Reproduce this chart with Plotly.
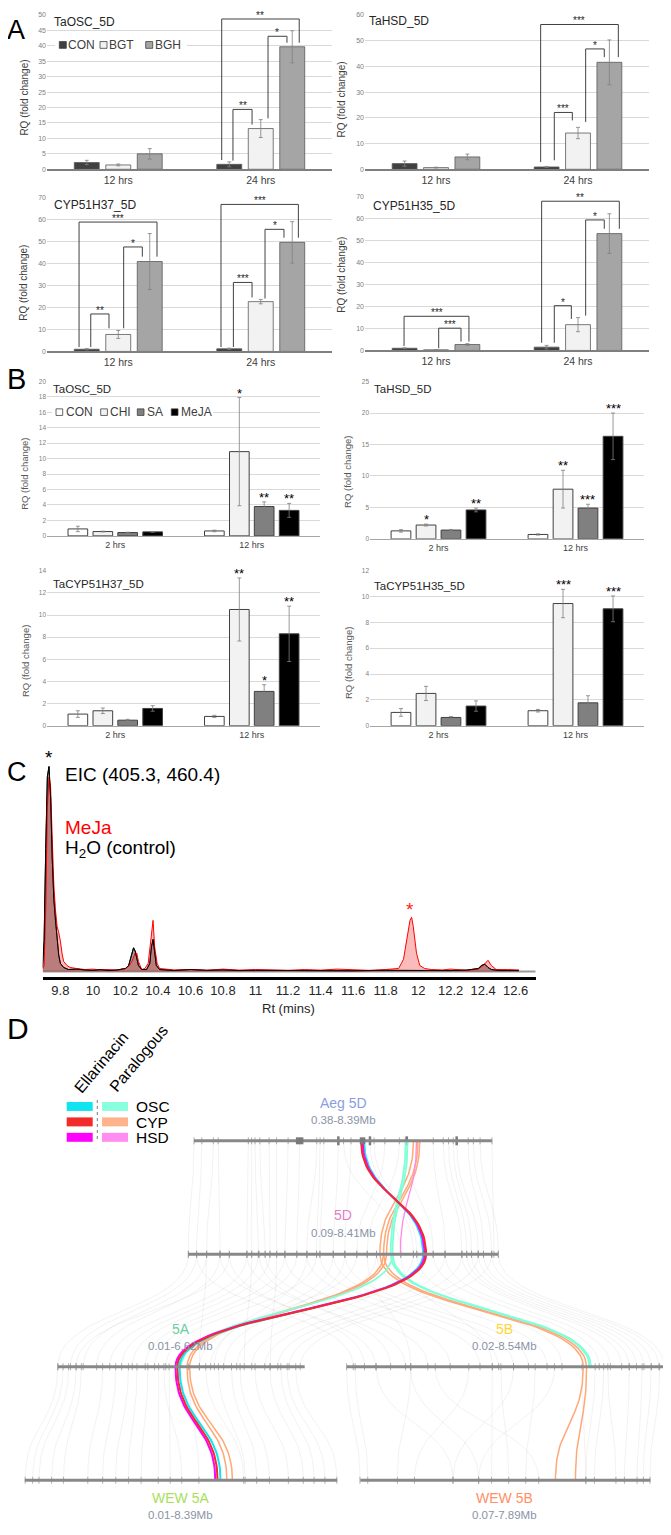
import plotly.graph_objects as go

W, H = 671, 1535          # target page size in px
OFF = 8                    # default page margin of the html body
FW, FH = W - OFF, H - OFF  # figure size
FONT = "Liberation Sans, Arial, sans-serif"

# ============================ DATA ============================
# ---- Panel A: RQ (fold change), CON / BGT / BGH ----
A_times = ["12 hrs", "24 hrs"]
A_groups = ["CON", "BGT", "BGH"]
A_genes = ["TaOSC_5D", "TaHSD_5D", "CYP51H37_5D", "CYP51H35_5D"]
A_osc_mean = [[2.2, 1.6], [1.4, 13.2], [5.0, 39.7]]
A_osc_err = [[0.7, 0.8], [0.3, 2.9], [1.7, 5.2]]
A_hsd_mean = [[2.2, 0.9], [0.65, 14.1], [4.8, 41.6]]
A_hsd_err = [[1.0, 0.2], [0.15, 2.2], [1.1, 8.7]]
A_cyp37_mean = [[1.0, 1.2], [7.7, 22.6], [40.8, 49.5]]
A_cyp37_err = [[0.3, 0.3], [1.8, 1.0], [12.7, 9.4]]
A_cyp35_mean = [[1.0, 1.5], [0.3, 11.7], [2.7, 53.0]]
A_cyp35_err = [[0.2, 0.8], [0.1, 3.2], [0.4, 9.0]]
# significance brackets: (x left, x right, top, left end, right end, label)
A_osc_sig = [(0.726, 1.270, 48.7, 3.0, 41.0, "**"), (1.051, 1.184, 43.1, 16.5, 41.0, "*"),
             (0.805, 0.939, 19.4, 2.8, 14.5, "**")]
A_hsd_sig = [(0.737, 1.284, 56.3, 2.8, 43.6, "***"), (1.054, 1.185, 46.8, 18.4, 43.6, "*"),
             (0.833, 0.960, 22.1, 3.5, 19.0, "***")]
A_cyp37_sig = [(-0.275, 0.272, 58.7, 2.0, 43.0, "***"), (-0.193, -0.065, 17.0, 2.0, 10.5, "**"),
               (0.038, 0.169, 47.4, 10.5, 43.0, "*"), (0.721, 1.264, 66.7, 2.0, 51.6, "***"),
               (0.808, 0.939, 31.3, 2.0, 24.5, "***"), (1.030, 1.163, 55.4, 24.0, 51.6, "*")]
A_cyp35_sig = [(-0.225, 0.232, 15.5, 2.0, 4.0, "***"), (0.019, 0.176, 10.1, 1.0, 4.0, "***"),
               (0.744, 1.291, 67.7, 3.5, 55.2, "**"), (1.054, 1.185, 59.2, 15.8, 55.2, "*"),
               (0.833, 0.953, 20.3, 3.5, 14.3, "*")]

# ---- Panel B: RQ (fold change), CON / CHI / SA / MeJA ----
B_times = ["2 hrs", "12 hrs"]
B_groups = ["CON", "CHI", "SA", "MeJA"]
B_genes = ["TaOSC_5D", "TaHSD_5D", "TaCYP51H37_5D", "TaCYP51H35_5D"]
B_osc_mean = [[0.9, 0.64], [0.56, 10.9], [0.43, 3.8], [0.52, 3.3]]
B_osc_err = [[0.35, 0.1], [0.05, 7.0], [0.05, 0.6], [0.05, 0.9]]
B_osc_sig = [["", ""], ["", "*"], ["", "**"], ["", "**"]]
B_hsd_mean = [[1.27, 0.7], [2.2, 7.9], [1.4, 4.9], [4.6, 16.3]]
B_hsd_err = [[0.2, 0.1], [0.15, 3.0], [0.1, 0.6], [0.3, 3.7]]
B_hsd_sig = [["", ""], ["*", "**"], ["", "***"], ["**", "***"]]
B_cyp37_mean = [[1.05, 0.84], [1.35, 10.5], [0.5, 3.1], [1.56, 8.3]]
B_cyp37_err = [[0.3, 0.1], [0.25, 2.85], [0.08, 0.6], [0.25, 2.5]]
B_cyp37_sig = [["", ""], ["", "**"], ["", "*"], ["", "**"]]
B_cyp35_mean = [[1.03, 1.16], [2.5, 9.46], [0.64, 1.77], [1.52, 9.05]]
B_cyp35_err = [[0.3, 0.1], [0.55, 1.1], [0.07, 0.55], [0.4, 1.0]]
B_cyp35_sig = [["", ""], ["", "***"], ["", ""], ["", "***"]]

# ---- Panel C: EIC (405.3, 460.4) chromatograms ----
C_rt_meja = [9.69, 9.70, 9.71, 9.72, 9.73, 9.74, 9.75, 9.76, 9.77, 9.78, 9.79, 9.80, 9.81, 9.82,
             9.84, 9.86, 9.90, 9.95, 10.00, 10.05, 10.10, 10.15, 10.20, 10.22, 10.24, 10.26,
             10.27, 10.28, 10.30, 10.32, 10.34, 10.355, 10.37, 10.38, 10.395, 10.41, 10.45,
             10.50, 10.60, 10.70, 10.80, 10.90, 11.00, 11.10, 11.20, 11.30, 11.40, 11.50,
             11.60, 11.70, 11.80, 11.88, 11.91, 11.93, 11.95, 11.96, 11.97, 11.99, 12.01,
             12.04, 12.08, 12.15, 12.20, 12.30, 12.37, 12.40, 12.43, 12.45, 12.48, 12.55, 12.62]
C_int_meja = [1, 3, 30, 80, 95, 90, 65, 42, 30, 22, 19, 15, 9, 5,
              3, 2, 1.5, 1, 1.2, 0.8, 1, 0.6, 1.5, 2.5, 5, 9,
              9, 5, 1, 1.5, 4, 14, 25, 12, 4, 1.5, 1.2,
              0.8, 1, 0.6, 1.2, 0.7, 1, 0.8, 0.6, 1, 0.7, 1.2,
              0.8, 0.6, 1, 1.5, 6, 15, 25, 26.5, 22, 9, 3,
              1.5, 1, 0.8, 1.2, 0.6, 1.2, 3, 5.5, 3, 1, 1, 0.8]
C_rt_h2o = [9.69, 9.70, 9.71, 9.72, 9.73, 9.74, 9.75, 9.76, 9.77, 9.78, 9.79, 9.80, 9.82, 9.85,
            9.90, 9.95, 10.00, 10.05, 10.10, 10.15, 10.20, 10.22, 10.24, 10.25, 10.26, 10.27,
            10.28, 10.30, 10.33, 10.35, 10.36, 10.37, 10.38, 10.39, 10.41, 10.45, 10.50, 10.60,
            10.70, 10.80, 10.90, 11.00, 11.20, 11.40, 11.60, 11.80, 11.90, 12.00, 12.10, 12.20,
            12.30, 12.37, 12.39, 12.41, 12.43, 12.45, 12.50, 12.60, 12.62]
C_int_h2o = [2, 15, 60, 95, 100, 85, 55, 35, 25, 15, 8, 4, 2, 1,
             1.2, 0.8, 0.6, 0.9, 0.5, 0.8, 1.5, 3, 8, 11.6, 10, 6,
             3, 1, 1, 4, 12, 15.7, 8, 3, 1, 0.8, 0.5, 1,
             0.6, 0.8, 0.5, 0.6, 0.5, 0.7, 0.4, 0.6, 0.5, 0.4, 0.6, 0.5,
             0.7, 1.5, 3, 3.6, 2, 1, 0.5, 0.6, 0.5]
C_ticks = [9.8, 10.0, 10.2, 10.4, 10.6, 10.8, 11.0, 11.2, 11.4, 11.6, 11.8, 12.0, 12.2, 12.4, 12.6]
C_tick_labels = ["9.8", "10", "10.2", "10.4", "10.6", "10.8", "11", "11.2", "11.4", "11.6",
                 "11.8", "12", "12.2", "12.4", "12.6"]

# ---- Panel D: synteny (positions in Mb) ----
D_chroms = ["Aeg 5D", "5D", "5A", "5B", "WEW 5A", "WEW 5B"]
D_ranges = ["0.38-8.39Mb", "0.09-8.41Mb", "0.01-6.62Mb", "0.02-8.54Mb", "0.01-8.39Mb", "0.07-7.89Mb"]
D_starts = [0.38, 0.09, 0.01, 0.02, 0.01, 0.07]
D_ends = [8.39, 8.41, 6.62, 8.54, 8.39, 7.89]
D_gray_aeg_5d = [(0.38, 0.10), (0.59, 0.32), (0.90, 0.59), (1.03, 0.95), (1.84, 1.67), (1.93, 1.80),
                 (2.02, 1.98), (2.15, 2.16), (2.40, 2.29), (2.60, 2.47), (2.91, 2.69), (3.22, 3.01),
                 (3.68, 3.28), (3.77, 3.54), (3.87, 3.63), (4.26, 3.99), (4.40, 5.80), (4.60, 4.30),
                 (5.11, 6.14), (5.22, 6.23), (5.51, 4.62), (5.90, 4.90), (6.06, 6.67), (6.81, 6.99),
                 (7.08, 7.44), (7.22, 7.57), (7.35, 7.70), (7.44, 7.88), (7.75, 8.02), (7.89, 8.24),
                 (8.07, 8.42), (8.39, 8.30)]
D_gray_5d_5a = [(0.10, 0.01), (0.32, 0.35), (0.59, 0.69), (0.95, 1.05), (1.20, 0.50), (1.67, 1.40),
                (1.80, 5.00), (1.98, 1.72), (2.29, 2.00), (2.47, 5.70), (2.69, 2.35), (3.01, 2.60),
                (3.28, 4.20), (3.54, 2.90), (3.99, 4.10), (4.30, 4.45), (4.62, 3.80), (5.15, 4.80),
                (6.14, 5.20), (6.99, 5.55), (7.44, 5.90), (7.88, 6.20), (8.24, 6.50), (0.59, 3.80)]
D_gray_5d_5b = [(0.32, 0.20), (0.95, 0.80), (1.67, 1.60), (2.16, 2.20), (2.69, 2.80), (3.28, 3.60),
                (3.63, 4.10), (3.99, 4.50), (4.30, 4.90), (5.15, 5.40), (6.23, 5.80), (6.67, 6.80),
                (6.99, 7.10), (7.44, 7.40), (7.57, 7.60), (7.70, 7.80), (7.88, 8.00), (8.02, 8.20),
                (8.24, 8.40), (8.42, 8.54), (1.20, 0.50), (2.00, 1.20), (4.90, 1.74), (5.80, 3.93)]
D_gray_5a_wew5a = [(0.01, 0.02), (0.15, 0.22), (0.30, 0.39), (0.50, 0.73), (0.64, 1.05), (1.21, 1.70),
                   (1.56, 2.10), (1.90, 2.45), (2.13, 2.79), (2.42, 3.13), (2.71, 3.59), (2.85, 4.22),
                   (2.99, 3.91), (3.51, 4.68), (3.97, 5.88), (4.31, 5.92), (4.66, 6.23), (4.89, 6.57),
                   (5.29, 7.08), (5.69, 7.48), (5.98, 7.77), (6.15, 8.06), (6.38, 8.38)]
D_gray_5b_wew5b = [(0.02, 0.06), (0.25, 0.27), (0.82, 2.57), (1.74, 1.07), (1.74, 3.26), (2.40, 4.88),
                   (3.30, 1.53), (3.93, 3.61), (4.16, 4.07), (4.50, 2.57), (5.08, 4.53), (5.60, 3.26),
                   (6.34, 6.15), (6.69, 6.15), (6.92, 6.38), (7.03, 6.96), (7.61, 7.19), (7.95, 7.53),
                   (8.19, 7.70), (8.42, 7.88)]
D_aeg_blocks = [3.22, 4.91]
D_aeg_thick = [4.26, 5.11, 6.10, 7.44]
# Ellarinacin cluster genes (OSC, CYP, HSD) along Aeg 5D -> 5D -> 5A -> WEW 5A
D_ell_genes = ["OSC", "CYP", "HSD"]
D_ell_aeg = [4.95, 4.87, 4.91]
D_ell_5d = [6.40, 6.48, 6.44]
D_ell_5a = [3.27, 3.21, 3.16]
D_ell_wew5a = [5.26, 5.18, 5.12]
# Paralogous genes
D_par_osc_aeg_5d = [(6.07, 5.53), (6.12, 5.58)]
D_par_osc_5d_5a = [(5.58, 3.31)]
D_par_osc_5d_5b = [(5.53, 6.54), (5.58, 6.58)]
D_par_cyp_aeg_5d = [(6.28, 5.24), (6.40, 5.34), (6.45, 5.42)]
D_par_cyp_5d_5a = [(5.34, 3.47), (5.42, 3.54)]
D_par_cyp_5d_5b = [(5.24, 6.37), (5.34, 6.46)]
D_par_cyp_5a_wew5a = [(3.47, 5.43), (3.54, 5.58)]
D_par_cyp_5b_wew5b = [(6.37, 5.33), (6.46, 5.87)]
D_par_hsd_aeg_5d = [(6.36, 5.79)]

# ============================ LAYOUT HELPERS ============================
def fx(p):
    return (p - OFF) / FW


def fy(p):
    return 1 - (p - OFF) / FH


layout = dict(width=FW, height=FH, margin=dict(l=0, r=0, t=0, b=0), autosize=False,
              paper_bgcolor="white", plot_bgcolor="rgba(0,0,0,0)", showlegend=False,
              barmode="overlay", font=dict(family=FONT))
annotations = []
shapes = []
fig = go.Figure()


def names(i):
    if i == 1:
        return "xaxis", "yaxis", "x", "y"
    return f"xaxis{i}", f"yaxis{i}", f"x{i}", f"y{i}"


def ann(text, x, y, size, color="#000000", xanchor="center", yanchor="middle", angle=0, family=FONT):
    annotations.append(dict(text=text, x=fx(x), y=fy(y), xref="paper", yref="paper", showarrow=False,
                            font=dict(size=size, color=color, family=family), xanchor=xanchor,
                            yanchor=yanchor, textangle=angle, borderpad=0))


def prect(x0, y0, x1, y1, fill, line=None, lw=0):
    shapes.append(dict(type="rect", xref="paper", yref="paper", x0=fx(x0), x1=fx(x1), y0=fy(y1),
                       y1=fy(y0), fillcolor=fill, line=dict(color=line or fill, width=lw), layer="above"))


def bar_axes(i, box, yr, ticktext, tickfs, catfs, linecolor, lw):
    xa, ya, xr, yref = names(i)
    layout[xa] = dict(domain=[fx(box[0]), fx(box[1])], anchor=yref, range=[-0.5, 1.5], tickvals=[0, 1],
                      ticktext=ticktext, showgrid=False, zeroline=False, showline=True, linecolor=linecolor,
                      linewidth=lw, ticks="", tickfont=dict(size=catfs, color="#404040"), fixedrange=True)
    layout[ya] = dict(domain=[fy(box[3]), fy(box[2])], anchor=xr, range=[yr[0], yr[1]], dtick=yr[2], tick0=0,
                      showgrid=True, gridcolor="#d9d9d9", gridwidth=0.8, zeroline=False, showline=False,
                      ticks="", tickfont=dict(size=tickfs, color="#808080"), fixedrange=True)
    return xr, yref


# ============================ PANEL A ============================
A_boxes = [(47, 332, 11, 166), (365, 649, 11, 166), (47, 332, 194, 349), (365, 649, 193, 348)]
A_yr = [(0, 50, 5), (0, 60, 10), (0, 70, 10), (0, 70, 10)]
A_title_pos = [(53, 18), (368, 17), (53, 202), (372, 203)]
A_ytitle_pos = [(25, 94), (342, 96), (24, 280), (342, 272)]
A_colors = ["#404040", "#f2f2f2", "#a5a5a5"]
A_centers = [-0.221, 0.0, 0.221]
A_width = 0.175
A_means = [A_osc_mean, A_hsd_mean, A_cyp37_mean, A_cyp35_mean]
A_errs = [A_osc_err, A_hsd_err, A_cyp37_err, A_cyp35_err]
A_sigs = [A_osc_sig, A_hsd_sig, A_cyp37_sig, A_cyp35_sig]

for k in range(4):
    xr, yr = bar_axes(k + 1, A_boxes[k], A_yr[k], A_times, 7, 10.5, "#7f7f7f", 1.5)
    for j, g in enumerate(A_groups):
        fig.add_trace(go.Bar(x=[0, 1], y=A_means[k][j], name=g, width=A_width,
                             offset=A_centers[j] - A_width / 2,
                             marker=dict(color=A_colors[j], line=dict(color="#595959", width=0.8)),
                             error_y=dict(type="data", array=A_errs[k][j], color="#808080",
                                          thickness=0.8, width=2),
                             xaxis=xr, yaxis=yr))
    for (x0, x1, top, yl, yrr, lab) in A_sigs[k]:
        shapes.append(dict(type="path", xref=xr, yref=yr,
                           path=f"M {x0},{yl} L {x0},{top} L {x1},{top} L {x1},{yrr}",
                           line=dict(color="#404040", width=1), layer="above"))
        annotations.append(dict(text=lab, x=(x0 + x1) / 2, y=top, xref=xr, yref=yr, showarrow=False,
                                yanchor="bottom", yshift=-4, font=dict(size=10, color="#262626")))
    ann(A_genes[k], A_title_pos[k][0], A_title_pos[k][1], 12, "#262626", xanchor="left")
    ann("RQ (fold change)", A_ytitle_pos[k][0], A_ytitle_pos[k][1], 10, "#404040", angle=-90)

# Panel A legend
prect(55, 33, 187, 49, "white")
A_leg_sq = [59.3, 100, 145.7]
for j, g in enumerate(A_groups):
    prect(A_leg_sq[j], 37.7, A_leg_sq[j] + 7, 44.5, A_colors[j], "#404040", 0.8)
    ann(g, A_leg_sq[j] + 8, 41.2, 12, "#404040", xanchor="left")

# ============================ PANEL B ============================
B_boxes = [(47, 320, 379, 534.3), (370, 644, 379.3, 537.3), (47, 320, 569.3, 725), (370, 644, 569.3, 725)]
B_yr = [(0, 20, 2), (0, 25, 5), (0, 14, 2), (0, 12, 2)]
B_title_pos = [(52, 387), (373, 387), (52, 583), (373, 585)]
B_ytitle_pos = [(25, 472), (348, 470), (25, 660), (348, 662)]
B_colors = ["#ffffff", "#f2f2f2", "#808080", "#000000"]
B_centers = [-0.274, -0.091, 0.091, 0.274]
B_width = 0.144
B_means = [B_osc_mean, B_hsd_mean, B_cyp37_mean, B_cyp35_mean]
B_errs = [B_osc_err, B_hsd_err, B_cyp37_err, B_cyp35_err]
B_sigs = [B_osc_sig, B_hsd_sig, B_cyp37_sig, B_cyp35_sig]

for k in range(4):
    xr, yr = bar_axes(k + 5, B_boxes[k], B_yr[k], B_times, 6.5, 9, "#a6a6a6", 1.2)
    for j, g in enumerate(B_groups):
        fig.add_trace(go.Bar(x=[0, 1], y=B_means[k][j], name=g, width=B_width,
                             offset=B_centers[j] - B_width / 2,
                             marker=dict(color=B_colors[j], line=dict(color="#404040", width=1)),
                             error_y=dict(type="data", array=B_errs[k][j], color="#7f7f7f",
                                          thickness=0.8, width=2),
                             xaxis=xr, yaxis=yr))
        for t in range(2):
            lab = B_sigs[k][j][t]
            if lab:
                annotations.append(dict(text=lab, x=t + B_centers[j], y=B_means[k][j][t] + B_errs[k][j][t],
                                        xref=xr, yref=yr, showarrow=False, yanchor="bottom", yshift=-5,
                                        font=dict(size=13, color="#000000")))
    ann(B_genes[k], B_title_pos[k][0], B_title_pos[k][1], 11.5, "#262626", xanchor="left")
    ann("RQ (fold change)", B_ytitle_pos[k][0], B_ytitle_pos[k][1], 9.5, "#595959", angle=-90)

prect(52, 402, 213, 418, "white")
B_leg_sq = [56, 100.7, 137.3, 171.3]
for j, g in enumerate(B_groups):
    prect(B_leg_sq[j], 406.7, B_leg_sq[j] + 6.7, 413.3, B_colors[j], "#404040", 0.8)
    ann(g, B_leg_sq[j] + 8.5, 410, 12, "#404040", xanchor="left")

# ============================ PANEL C ============================
xa, ya, xr, yr = names(9)
layout[xa] = dict(domain=[fx(42.8), fx(535.7)], anchor=yr, range=[9.692, 12.723], tickvals=C_ticks,
                  ticktext=C_tick_labels, tickangle=0, showgrid=False, zeroline=False, showline=True,
                  linecolor="#000000", linewidth=3, ticks="",
                  tickfont=dict(size=13, color="#262626", family="Liberation Sans Narrow, Arial Narrow, Liberation Sans, Arial"),
                  fixedrange=True)
layout[ya] = dict(domain=[fy(977), fy(750)], anchor=xr, range=[-2.43, 107.8], visible=False, fixedrange=True)
shapes.append(dict(type="line", xref=xr, yref=yr, x0=9.692, x1=12.723, y0=0, y1=0,
                   line=dict(color="#9a9a9a", width=2), layer="below"))
fig.add_trace(go.Scatter(x=C_rt_h2o, y=C_int_h2o, mode="lines", name="H2O (control)",
                         line=dict(color="#000000", width=1), fill="tozeroy",
                         fillcolor="rgba(80,80,80,0.55)", xaxis=xr, yaxis=yr))
fig.add_trace(go.Scatter(x=C_rt_meja, y=C_int_meja, mode="lines", name="MeJa",
                         line=dict(color="#ff0000", width=1), fill="tozeroy",
                         fillcolor="rgba(240,60,60,0.35)", xaxis=xr, yaxis=yr))
fig.add_trace(go.Scatter(x=C_rt_h2o, y=C_int_h2o, mode="lines", name="H2O line",
                         line=dict(color="#000000", width=0.9), xaxis=xr, yaxis=yr))
ann("*", 49, 757, 19, "#000000")
ann("EIC (405.3, 460.4)", 64, 774, 19, "#000000", xanchor="left")
ann("MeJa", 64, 827, 19, "#ff0000", xanchor="left")
ann("H<sub>2</sub>O (control)", 64, 849, 19, "#000000", xanchor="left")
ann("*", 409.5, 910, 19, "#ff2020")
ann("Rt (mins)", 288, 1009, 13, "#262626")

# ============================ PANEL D ============================
xa, ya, xr, yr = names(10)
layout[xa] = dict(domain=[0, 1], anchor=yr, range=[OFF, W], visible=False, fixedrange=True)
layout[ya] = dict(domain=[0, fy(1000)], anchor=xr, range=[H, 1000], visible=False, fixedrange=True)
D_geom = {"Aeg 5D": (194, 492, 1142), "5D": (188, 498, 1256), "5A": (57.8, 304.7, 1369),
          "5B": (346.6, 664.1, 1369), "WEW 5A": (24.8, 337.2, 1483), "WEW 5B": (360.3, 650.4, 1483)}
D_label_pos = {"Aeg 5D": (343, 1104), "5D": (343, 1217), "5A": (180.6, 1331), "5B": (504.9, 1331),
               "WEW 5A": (180.6, 1500.7), "WEW 5B": (504.9, 1500.7)}
D_label_col = {"Aeg 5D": "#8a9ede", "5D": "#e47cc8", "5A": "#6ccca4", "5B": "#ffd633",
               "WEW 5A": "#a8e05c", "WEW 5B": "#ff8f66"}


def cx(ch, mb):
    i = D_chroms.index(ch)
    x0, x1, _ = D_geom[ch]
    return x0 + (mb - D_starts[i]) / (D_ends[i] - D_starts[i]) * (x1 - x0)


def curve(ch1, m1, ch2, m2, n=40):
    x1, y1 = cx(ch1, m1), D_geom[ch1][2]
    x2, y2 = cx(ch2, m2), D_geom[ch2][2]
    ym = (y1 + y2) / 2
    xs, ys = [], []
    for i in range(n + 1):
        t = i / n
        u = 1 - t
        xs.append(u ** 3 * x1 + 3 * u * u * t * x1 + 3 * u * t * t * x2 + t ** 3 * x2)
        ys.append(u ** 3 * y1 + 3 * u * u * t * ym + 3 * u * t * t * ym + t ** 3 * y2)
    return xs, ys


def link_trace(pairs_list, color, width, name):
    X, Y = [], []
    for ch1, ch2, pairs in pairs_list:
        for (a, b) in pairs:
            xs, ys = curve(ch1, a, ch2, b)
            X += xs + [None]
            Y += ys + [None]
    fig.add_trace(go.Scatter(x=X, y=Y, mode="lines", line=dict(color=color, width=width), name=name,
                             xaxis=xr, yaxis=yr, hoverinfo="skip"))


gray_sets = [("Aeg 5D", "5D", D_gray_aeg_5d), ("5D", "5A", D_gray_5d_5a), ("5D", "5B", D_gray_5d_5b),
             ("5A", "WEW 5A", D_gray_5a_wew5a), ("5B", "WEW 5B", D_gray_5b_wew5b)]
link_trace(gray_sets, "rgba(170,170,170,0.25)", 0.6, "collinear")

# chromosome bars
for ch in D_chroms:
    x0, x1, y = D_geom[ch]
    shapes.append(dict(type="line", xref=xr, yref=yr, x0=x0, x1=x1, y0=y, y1=y,
                       line=dict(color="#888888", width=3), layer="above"))
# gene ticks from link endpoints
TX, TY = [], []
for ch1, ch2, pairs in gray_sets:
    for (a, b) in pairs:
        for ch, m in ((ch1, a), (ch2, b)):
            x = cx(ch, m)
            y = D_geom[ch][2]
            TX += [x, x, None]
            TY += [y - 3.5, y + 3.5, None]
fig.add_trace(go.Scatter(x=TX, y=TY, mode="lines", line=dict(color="#9a9a9a", width=0.8), xaxis=xr,
                         yaxis=yr, hoverinfo="skip", name="genes"))
TX, TY = [], []
for m in D_aeg_thick:
    x = cx("Aeg 5D", m)
    TX += [x, x, None]
    TY += [1142 - 4.5, 1142 + 4.5, None]
fig.add_trace(go.Scatter(x=TX, y=TY, mode="lines", line=dict(color="#7a7a7a", width=2.5), xaxis=xr,
                         yaxis=yr, hoverinfo="skip", name="thick genes"))
for m, wpx in zip(D_aeg_blocks, [7.5, 5.5]):
    x = cx("Aeg 5D", m)
    shapes.append(dict(type="rect", xref=xr, yref=yr, x0=x - wpx / 2, x1=x + wpx / 2, y0=1138.5, y1=1145.5,
                       fillcolor="#7a7a7a", line=dict(width=0), layer="above"))

# paralogous links
link_trace([("Aeg 5D", "5D", D_par_cyp_aeg_5d), ("5D", "5A", D_par_cyp_5d_5a), ("5D", "5B", D_par_cyp_5d_5b),
            ("5A", "WEW 5A", D_par_cyp_5a_wew5a), ("5B", "WEW 5B", D_par_cyp_5b_wew5b)],
           "#ffa878", 1.5, "CYP paralogous")
link_trace([("Aeg 5D", "5D", D_par_osc_aeg_5d), ("5D", "5A", D_par_osc_5d_5a), ("5D", "5B", D_par_osc_5d_5b)],
           "#7fffd8", 1.8, "OSC paralogous")
link_trace([("Aeg 5D", "5D", D_par_hsd_aeg_5d)], "#ff88e8", 1.3, "HSD paralogous")
# ellarinacin cluster links
D_ell_colors = ["#10e4f0", "#f22a2a", "#ff00ff"]
for g in [0, 2, 1]:
    link_trace([("Aeg 5D", "5D", [(D_ell_aeg[g], D_ell_5d[g])]),
                ("5D", "5A", [(D_ell_5d[g], D_ell_5a[g])]),
                ("5A", "WEW 5A", [(D_ell_5a[g], D_ell_wew5a[g])])],
               D_ell_colors[g], 2.0, D_ell_genes[g] + " ellarinacin")

for i, ch in enumerate(D_chroms):
    lx, ly = D_label_pos[ch]
    ann(ch, lx, ly, 14, D_label_col[ch])
    ann(D_ranges[i], lx, ly + 17.5, 11.5, "#8a93a6")

# legend of panel D
D_par_colors = ["#88ffdd", "#ffb38a", "#ff8cf0"]
D_leg_rows = [1103, 1118.5, 1134]
for r in range(3):
    shapes.append(dict(type="rect", xref=xr, yref=yr, x0=66.7, x1=92.7, y0=D_leg_rows[r],
                       y1=D_leg_rows[r] + 9, fillcolor=D_ell_colors[r], line=dict(width=0), layer="above"))
    shapes.append(dict(type="rect", xref=xr, yref=yr, x0=102, x1=128, y0=D_leg_rows[r],
                       y1=D_leg_rows[r] + 9, fillcolor=D_par_colors[r], line=dict(width=0), layer="above"))
    ann(D_ell_genes[r], 135, D_leg_rows[r] + 5, 15.5, "#000000", xanchor="left")
shapes.append(dict(type="line", xref=xr, yref=yr, x0=97.3, x1=97.3, y0=1101, y1=1143,
                   line=dict(color="#777777", width=1, dash="dot"), layer="above"))
ann("Ellarinacin", 101, 1063, 16, "#000000", angle=-50)
ann("Paralogous", 138.5, 1059, 16, "#000000", angle=-50)

# panel letters
ann("A", 16, 26, 27)
ann("B", 16, 377, 29)
ann("C", 17, 772, 27)
ann("D", 17.5, 1029, 30)

layout["annotations"] = annotations
layout["shapes"] = shapes
fig.update_layout(**layout)
fig.write_html("out.html")
